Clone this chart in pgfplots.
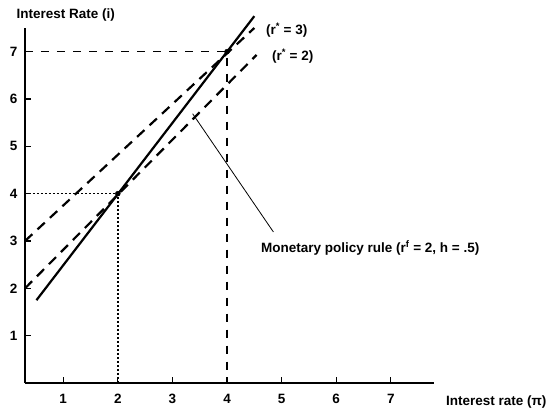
\documentclass[border=0pt]{standalone}
\usepackage{pgfplots}
\pgfplotsset{compat=1.18}
\usepackage{fontspec}
\setmainfont{Liberation Sans}
\begin{document}
\begin{tikzpicture}
\useasboundingbox (-25pt,-27pt) rectangle (521pt,383pt);
\begin{axis}[
  name=ax,
  at={(0,0)}, anchor=south west,
  scale only axis,
  width=409.5pt, height=355pt,
  xmin=0.3, xmax=7.8, ymin=0, ymax=7.5,
  axis x line=bottom, axis y line=left,
  axis line style={-, line width=1.6pt},
  every outer x axis line/.append style={-},
  every outer y axis line/.append style={-},
  xtick={1,...,7}, ytick={1,...,7},
  tick align=inside,
  major tick length=6pt,
  tick style={line width=1.2pt, black},
  ticklabel style={font=\bfseries\fontsize{13.5}{15}\selectfont},
  /pgf/number format/assume math mode=true,
  y tick label style={xshift=-4pt},
  x tick label style={yshift=-8pt},
  clip=false,
]
% monetary policy rule
\addplot[black, line width=2.2pt] coordinates {(0.51,1.75) (4.5,7.75)};
% r* = 3
\addplot[black, line width=2.2pt, dash pattern=on 10pt off 7pt] coordinates {(0.3,3.0) (4.5,7.5)};
% r* = 2
\addplot[black, line width=2.2pt, dash pattern=on 10pt off 7pt] coordinates {(0.3,2.0) (4.54,6.93)};
% dotted guides at (2,4)
\addplot[black, line width=1.4pt, dash pattern=on 2pt off 2pt] coordinates {(0.3,4) (2,4) (2,0)};
% dashed guides at (4,7)
\addplot[black, line width=1.5pt, dash pattern=on 8pt off 8pt] coordinates {(0.3,7) (4,7) (4,0)};
% equilibrium points
\addplot[black, only marks, mark=*, mark size=2.5pt] coordinates {(2,4) (4,7)};
% pointer
\addplot[black, line width=0.8pt] coordinates {(3.37,5.69) (4.85,3.19)};
\node[anchor=west, font=\bfseries\fontsize{13.5}{15}\selectfont] at (axis cs:4.56,2.85) {Monetary policy rule (r\textsuperscript{f} = 2, h = .5)};
\node[anchor=west, font=\bfseries\fontsize{13.5}{15}\selectfont] at (axis cs:4.65,7.46) {(r\textsuperscript{*} = 3)};
\node[anchor=west, font=\bfseries\fontsize{13.5}{15}\selectfont] at (axis cs:4.76,6.9) {(r\textsuperscript{*} = 2)};
\node[anchor=west, font=\bfseries\fontsize{13.5}{15}\selectfont, xshift=-12pt, yshift=13pt] at (rel axis cs:0,1) {Interest Rate (i)};
\node[anchor=west, font=\bfseries\fontsize{13.5}{15}\selectfont, xshift=8pt, yshift=-19pt] at (rel axis cs:1,0) {Interest rate (π)};
\end{axis}
\end{tikzpicture}
\end{document}
